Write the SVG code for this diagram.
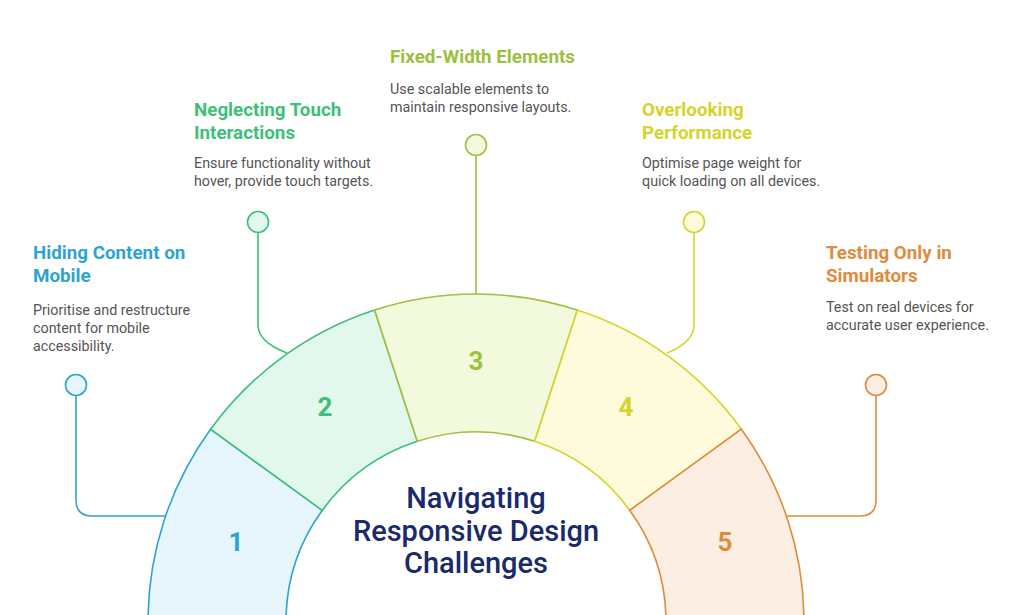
<svg xmlns="http://www.w3.org/2000/svg" width="1024" height="615" viewBox="0 0 1024 615">
<style>
.h{font-family:Roboto,"Liberation Sans",sans-serif;font-weight:700;font-size:18.8px}
.d{font-family:Roboto,"Liberation Sans",sans-serif;font-size:14.3px;fill:#555}
.n{font-family:Roboto,"Liberation Sans",sans-serif;font-weight:700;font-size:26px;text-anchor:middle}
.c{fill:none;stroke-width:1.6}
.seg{stroke-width:1.6}
</style>
<rect width="1024" height="615" fill="#fff"/>
<g id="connectors">
<path class="c" stroke="#2ea3cf" d="M76,395 V500 Q76,516 92,516 H167"/>
<circle cx="76" cy="385" r="10.5" fill="#e6f6fc" stroke="#2ea3cf" stroke-width="1.6"/>
<path class="c" stroke="#3dbf7a" d="M258,233 V325 Q258,342 287,353"/>
<circle cx="258" cy="222" r="10.5" fill="#e3f8ec" stroke="#3dbf7a" stroke-width="1.6"/>
<path class="c" stroke="#9cc040" d="M476,156 V294"/>
<circle cx="476" cy="145" r="10.5" fill="#f3f9dd" stroke="#9cc040" stroke-width="1.6"/>
<path class="c" stroke="#d4d42a" d="M694,233 V325 Q694,342 667,353"/>
<circle cx="694" cy="222" r="10.5" fill="#fdfbdc" stroke="#d4d42a" stroke-width="1.6"/>
<path class="c" stroke="#e08a3c" d="M876,396 V500 Q876,516 860,516 H787"/>
<circle cx="876" cy="385" r="10.5" fill="#fdeee3" stroke="#e08a3c" stroke-width="1.6"/>
</g>
<g id="seg1"><path class="seg" fill="#e6f6fc" stroke="#2ea3cf" d="M148,622 A328,328 0 0 1 210.6,429.2 L322.3,510.3 A190,190 0 0 0 286,622 Z"/><text class="n" x="236" y="551" fill="#2ea3cf">1</text></g>
<g id="seg2"><path class="seg" fill="#e3f8ec" stroke="#3dbf7a" d="M210.6,429.2 A328,328 0 0 1 374.6,310.1 L417.3,441.3 A190,190 0 0 0 322.3,510.3 Z"/><text class="n" x="325" y="416" fill="#3dbf7a">2</text></g>
<g id="seg3"><path class="seg" fill="#f3f9dd" stroke="#9cc040" d="M374.6,310.1 A328,328 0 0 1 577.4,310.1 L534.7,441.3 A190,190 0 0 0 417.3,441.3 Z"/><text class="n" x="476" y="370" fill="#9cc040">3</text></g>
<g id="seg4"><path class="seg" fill="#fdfbdc" stroke="#d4d42a" d="M577.4,310.1 A328,328 0 0 1 741.4,429.2 L629.7,510.3 A190,190 0 0 0 534.7,441.3 Z"/><text class="n" x="626" y="416" fill="#d4d42a">4</text></g>
<g id="seg5"><path class="seg" fill="#fdeee3" stroke="#e08a3c" d="M741.4,429.2 A328,328 0 0 1 804,622 L666,622 A190,190 0 0 0 629.7,510.3 Z"/><text class="n" x="725" y="551" fill="#e08a3c">5</text></g>
<g id="title" font-family="Roboto,'Liberation Sans',sans-serif" font-size="29" font-weight="500" fill="#1b2a6b" text-anchor="middle">
<text x="476" y="508">Navigating</text><text x="476" y="541">Responsive Design</text><text x="476" y="573">Challenges</text>
</g>
<g id="t1"><text class="h" x="33" y="259" fill="#2ea3cf">Hiding Content on</text><text class="h" x="33" y="282" fill="#2ea3cf">Mobile</text>
<text class="d" x="33" y="315">Prioritise and restructure</text><text class="d" x="33" y="333">content for mobile</text><text class="d" x="33" y="351">accessibility.</text></g>
<g id="t2"><text class="h" x="194" y="116" fill="#3dbf7a">Neglecting Touch</text><text class="h" x="194" y="139" fill="#3dbf7a">Interactions</text>
<text class="d" x="194" y="168">Ensure functionality without</text><text class="d" x="194" y="186">hover, provide touch targets.</text></g>
<g id="t3"><text class="h" x="390" y="63" fill="#9cc040">Fixed-Width Elements</text>
<text class="d" x="390" y="94">Use scalable elements to</text><text class="d" x="390" y="112">maintain responsive layouts.</text></g>
<g id="t4"><text class="h" x="642" y="116" fill="#d4d42a">Overlooking</text><text class="h" x="642" y="139" fill="#d4d42a">Performance</text>
<text class="d" x="642" y="168">Optimise page weight for</text><text class="d" x="642" y="186">quick loading on all devices.</text></g>
<g id="t5"><text class="h" x="826" y="259" fill="#e08a3c">Testing Only in</text><text class="h" x="826" y="282" fill="#e08a3c">Simulators</text>
<text class="d" x="826" y="312">Test on real devices for</text><text class="d" x="826" y="330">accurate user experience.</text></g>
</svg>
